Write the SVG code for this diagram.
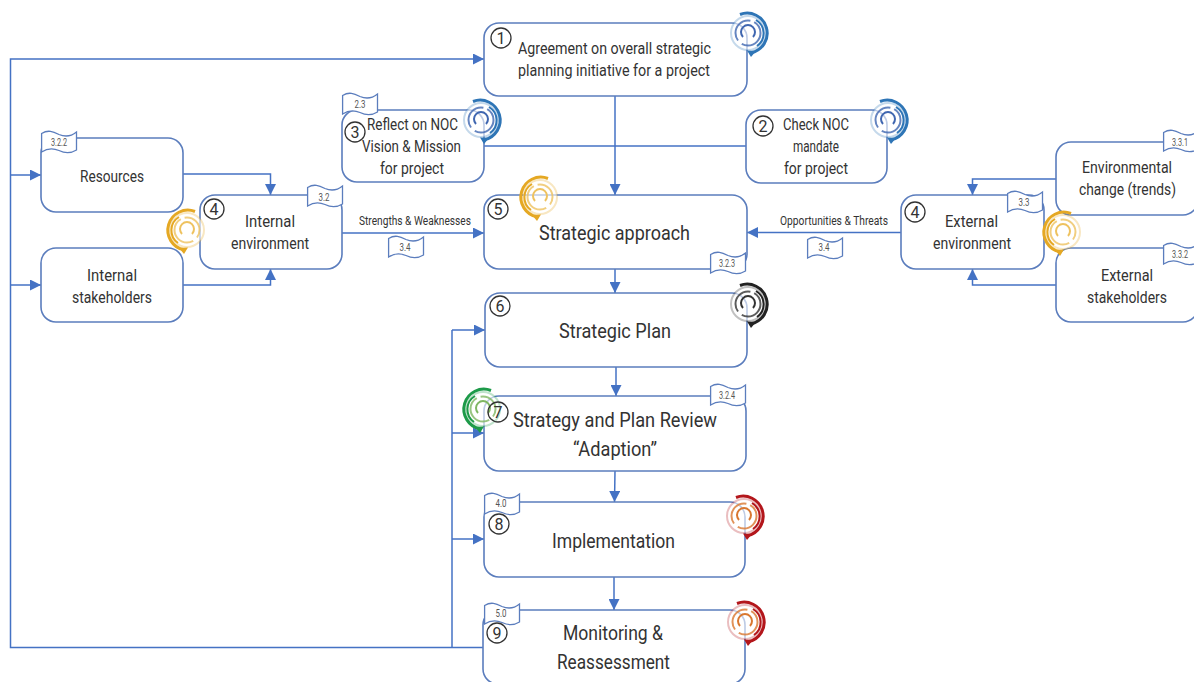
<svg xmlns="http://www.w3.org/2000/svg" xmlns:xlink="http://www.w3.org/1999/xlink" width="1194" height="682" viewBox="0 0 1194 682">
<style>
text{font-family:"Roboto","Noto Sans","Liberation Sans",sans-serif;fill:#333;text-anchor:middle}
.box{fill:#fff;stroke:#5b7dbd;stroke-width:1.6}
.c{fill:none;stroke:#4472c4;stroke-width:1.5}
.n{fill:none;stroke:#333;stroke-width:1.3}
.nt{font-size:16px}
.m{font-size:17px}
.a{font-size:16px}
.l{font-size:21px}
.s{font-size:13px}
.f{font-size:10px;fill:#555}
.flag{fill:#fff;stroke:#5b7dbd;stroke-width:1.3}
.ib{color:#2e75b6;--in:#3f66b0}
.iy{color:#e5a823;--in:#eec25f}
.ik{color:#222;--in:#333}
.ig{color:#1d9a49;--in:#7fb662}
.ir{color:#b3161b;--in:#d9772f}
</style>
<defs>
<marker id="a" viewBox="0 0 10 10" refX="10" refY="5" markerWidth="11" markerHeight="11" markerUnits="userSpaceOnUse" orient="auto"><path d="M0 0L10 5L0 10z" fill="#4472c4"/></marker>
<g id="cyc">
<circle r="17" fill="#fff" fill-opacity=".6" stroke="currentColor" stroke-opacity=".28" stroke-width="2"/>
<path d="M-8-18.500A20 20 0 1 1 3 19.800" fill="none" stroke="currentColor" stroke-width="3"/>
<path d="M8-13A15.500 15.500 0 0 1 9 13" fill="none" stroke="currentColor" stroke-width="2"/>
<path d="M-1 17.500L8 18L3 24z" fill="currentColor"/>
<circle r="12.500" fill="none" stroke="var(--in)" stroke-width="2" stroke-dasharray="26 5 30 4" stroke-opacity=".8"/>
<path d="M-5 4A7 7 0 1 1 5 4" fill="none" stroke="var(--in)" stroke-width="2"/>
</g>
<path id="fl" d="M.6 2.500C7 -1.500 12 .5 18 3.500C24 6 30 5.500 35.500 1V19C29 23 24 22.500 18 19.500C12 17 6 17.500 .6 21z"/>
</defs>

<g id="connectors" class="c">
<path class="c" marker-end="url(#a)" d="M484 647.500H10.500V59H484"/>
<path class="c" marker-end="url(#a)" d="M10.500 175H41"/>
<path class="c" marker-end="url(#a)" d="M10.500 285H41"/>
<path class="c" d="M452 647V330"/>
<path class="c" marker-end="url(#a)" d="M452 330H485"/>
<path class="c" marker-end="url(#a)" d="M452 433H484"/>
<path class="c" marker-end="url(#a)" d="M452 539H484"/>
<path class="c" marker-end="url(#a)" d="M615 96V195"/>
<path class="c" d="M484 146H746"/>
<path class="c" marker-end="url(#a)" d="M183 174H270.500V195"/>
<path class="c" marker-end="url(#a)" d="M183 285H270.500V269"/>
<path class="c" marker-end="url(#a)" d="M342 233H484"/>
<path class="c" marker-end="url(#a)" d="M901 232.500H747"/>
<path class="c" marker-end="url(#a)" d="M1056 179H972.500V195"/>
<path class="c" marker-end="url(#a)" d="M1056 285H972.500V269"/>
<path class="c" marker-end="url(#a)" d="M615 269V293"/>
<path class="c" marker-end="url(#a)" d="M616 367V396"/>
<path class="c" marker-end="url(#a)" d="M615 471L614.500 502"/>
<path class="c" marker-end="url(#a)" d="M614 577V610"/>
</g>

<g id="n1"><rect class="box" x="484" y="23" width="263" height="73" rx="15"/><use href="#cyc" class="ib" transform="translate(748,33)"/><circle class="n" cx="501" cy="38" r="10"/><text class="nt" x="501" y="43.500">1</text>
<text class="a" x="614.500" y="54" textLength="193" lengthAdjust="spacingAndGlyphs">Agreement on overall strategic</text><text class="a" x="614" y="76" textLength="192" lengthAdjust="spacingAndGlyphs">planning initiative for a project</text></g>

<g id="n2"><rect class="box" x="746" y="110" width="141" height="73" rx="15"/><use href="#cyc" class="ib" transform="translate(888,120)"/><circle class="n" cx="763" cy="126" r="10"/><text class="nt" x="763" y="131.500">2</text>
<text class="m" x="816" y="130" textLength="66" lengthAdjust="spacingAndGlyphs">Check NOC</text><text class="m" x="816" y="152" textLength="46" lengthAdjust="spacingAndGlyphs">mandate</text><text class="m" x="816" y="174" textLength="64" lengthAdjust="spacingAndGlyphs">for project</text></g>

<g id="n3"><rect class="box" x="342" y="110" width="142" height="72" rx="15"/><use href="#fl" class="flag" x="342" y="93"/><text class="f" x="360" y="108" textLength="11" lengthAdjust="spacingAndGlyphs">2.3</text><use href="#cyc" class="ib" transform="translate(481,120)"/><circle class="n" cx="355" cy="132" r="10"/><text class="nt" x="355" y="137.500">3</text>
<text class="m" x="412.500" y="130" textLength="91" lengthAdjust="spacingAndGlyphs">Reflect on NOC</text><text class="m" x="411.500" y="152" textLength="99" lengthAdjust="spacingAndGlyphs">Vision &amp; Mission</text><text class="m" x="412" y="174" textLength="64" lengthAdjust="spacingAndGlyphs">for project</text></g>

<g id="resources"><rect class="box" x="41" y="138" width="142" height="74" rx="15"/><use href="#fl" class="flag" x="41" y="131"/><text class="f" x="59" y="146" textLength="16" lengthAdjust="spacingAndGlyphs">3.2.2</text><text class="m" x="112" y="182" textLength="64" lengthAdjust="spacingAndGlyphs">Resources</text></g>

<g id="internal-stakeholders"><rect class="box" x="41" y="248" width="142" height="74" rx="15"/><text class="m" x="112" y="281" textLength="50" lengthAdjust="spacingAndGlyphs">Internal</text><text class="m" x="112" y="303" textLength="80" lengthAdjust="spacingAndGlyphs">stakeholders</text></g>

<g id="internal-environment"><rect class="box" x="200" y="195" width="142" height="74" rx="15"/><use href="#fl" class="flag" x="307" y="185"/><text class="f" x="324" y="201" textLength="11" lengthAdjust="spacingAndGlyphs">3.2</text><circle class="n" cx="214" cy="209" r="10"/><text class="nt" x="214" y="214.500">4</text>
<text class="m" x="270" y="227" textLength="50" lengthAdjust="spacingAndGlyphs">Internal</text><text class="m" x="270" y="249" textLength="78" lengthAdjust="spacingAndGlyphs">environment</text><use href="#cyc" class="iy" transform="translate(187,230) scale(-1,1)"/></g>

<g id="n5"><rect class="box" x="484" y="195" width="263" height="74" rx="15"/><use href="#fl" class="flag" x="710" y="252"/><text class="f" x="727" y="267" textLength="16" lengthAdjust="spacingAndGlyphs">3.2.3</text><use href="#cyc" class="iy" transform="translate(540,197) scale(-1,1)"/><circle class="n" cx="498" cy="209" r="10"/><text class="nt" x="498" y="214.500">5</text>
<text class="l" x="614.500" y="240" textLength="151" lengthAdjust="spacingAndGlyphs">Strategic approach</text></g>

<g id="external-environment"><rect class="box" x="901" y="195" width="143" height="74" rx="15"/><use href="#fl" class="flag" x="1007" y="191"/><text class="f" x="1024" y="206" textLength="11" lengthAdjust="spacingAndGlyphs">3.3</text><circle class="n" cx="915" cy="212" r="10"/><text class="nt" x="915" y="217.500">4</text>
<text class="m" x="971.500" y="227" textLength="53" lengthAdjust="spacingAndGlyphs">External</text><text class="m" x="972" y="249" textLength="78" lengthAdjust="spacingAndGlyphs">environment</text></g>

<g id="environmental-change"><rect class="box" x="1056" y="142" width="142" height="73" rx="15"/><use href="#fl" class="flag" x="1163" y="130"/><text class="f" x="1180" y="146" textLength="16" lengthAdjust="spacingAndGlyphs">3.3.1</text><text class="m" x="1127" y="173" textLength="90" lengthAdjust="spacingAndGlyphs">Environmental</text><text class="m" x="1127.500" y="195" textLength="97" lengthAdjust="spacingAndGlyphs">change (trends)</text></g>

<g id="external-stakeholders"><rect class="box" x="1056" y="248" width="142" height="74" rx="15"/><use href="#fl" class="flag" x="1163" y="243"/><text class="f" x="1180" y="258" textLength="16" lengthAdjust="spacingAndGlyphs">3.3.2</text><text class="m" x="1127" y="281" textLength="52" lengthAdjust="spacingAndGlyphs">External</text><text class="m" x="1127" y="303" textLength="80" lengthAdjust="spacingAndGlyphs">stakeholders</text><use href="#cyc" class="iy" transform="translate(1063,232) scale(-1,1)"/></g>

<g id="n6"><rect class="box" x="485" y="293" width="262" height="74" rx="15"/><use href="#cyc" class="ik" transform="translate(748,304)"/><circle class="n" cx="500" cy="306" r="10"/><text class="nt" x="500" y="311.500">6</text><text class="l" x="615" y="338" textLength="112" lengthAdjust="spacingAndGlyphs">Strategic Plan</text></g>

<g id="n7"><rect class="box" x="484" y="396" width="262" height="75" rx="15"/><use href="#fl" class="flag" x="710" y="384"/><text class="f" x="727" y="399" textLength="16" lengthAdjust="spacingAndGlyphs">3.2.4</text><use href="#cyc" class="ig" transform="translate(483,409) scale(-1,1)"/><circle class="n" cx="498" cy="412" r="10"/><text class="nt" x="498" y="417.500">7</text>
<text class="l" x="615" y="427" textLength="204" lengthAdjust="spacingAndGlyphs">Strategy and Plan Review</text><text class="l" x="615" y="456" textLength="84" lengthAdjust="spacingAndGlyphs">“Adaption”</text></g>

<g id="n8"><rect class="box" x="484" y="502" width="261" height="75" rx="15"/><use href="#fl" class="flag" x="484" y="493"/><text class="f" x="501" y="507" textLength="11" lengthAdjust="spacingAndGlyphs">4.0</text><use href="#cyc" class="ir" transform="translate(744,516)"/><circle class="n" cx="499" cy="524" r="10"/><text class="nt" x="499" y="529.500">8</text><text class="l" x="613.500" y="548" textLength="123" lengthAdjust="spacingAndGlyphs">Implementation</text></g>

<g id="n9"><rect class="box" x="483" y="610" width="262" height="74" rx="15"/><use href="#fl" class="flag" x="484" y="603"/><text class="f" x="501" y="617" textLength="11" lengthAdjust="spacingAndGlyphs">5.0</text><use href="#cyc" class="ir" transform="translate(745,622)"/><circle class="n" cx="497" cy="633" r="10"/><text class="nt" x="497" y="638.500">9</text><text class="l" x="613" y="640" textLength="100" lengthAdjust="spacingAndGlyphs">Monitoring &amp;</text><text class="l" x="613.500" y="669" textLength="113" lengthAdjust="spacingAndGlyphs">Reassessment</text></g>

<g id="label-sw"><text class="s" x="415" y="225" textLength="112" lengthAdjust="spacingAndGlyphs">Strengths &amp; Weaknesses</text><use href="#fl" class="flag" x="388" y="236"/><text class="f" x="405" y="251" textLength="11" lengthAdjust="spacingAndGlyphs">3.4</text></g>
<g id="label-ot"><text class="s" x="834" y="225" textLength="108" lengthAdjust="spacingAndGlyphs">Opportunities &amp; Threats</text><use href="#fl" class="flag" x="807" y="237"/><text class="f" x="824" y="251" textLength="11" lengthAdjust="spacingAndGlyphs">3.4</text></g>
</svg>
